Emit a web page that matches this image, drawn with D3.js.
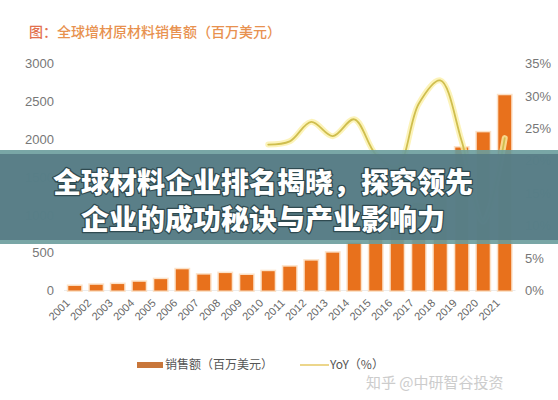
<!DOCTYPE html>
<html><head><meta charset="utf-8">
<script src="https://cdn.jsdelivr.net/npm/d3@7"></script>
<style>
html,body{margin:0;padding:0;background:#fff;}
svg{display:block;font-family:"Liberation Sans","Noto Sans CJK SC",Arial,sans-serif;}
</style></head>
<body><svg id="c" width="558" height="400"></svg>
<script>
const years = ["2001","2002","2003","2004","2005","2006","2007","2008","2009","2010","2011","2012","2013","2014","2015","2016","2017","2018","2019","2020","2021"];
const sales = [60, 75, 85, 115, 150, 280, 210, 230, 205, 255, 315, 395, 500, 630, 765, 905, 1160, 1535, 1890, 2090, 2580];
const yoy = [null, null, null, null, null, null, null, null, null, 22.5, 23, 26, 23.8, 26.4, 21, 19, 28.8, 32.4, 23, 10.6, 23.5];
const leftTicks = [0, 500, 1000, 1500, 2000, 2500, 3000];
const rightTicks = [0, 5, 10, 15, 20, 25, 30, 35];
const titleText = "图：全球增材原材料销售额（百万美元）";
const legendBar = "销售额（百万美元）";
const legendLine = "YoY（%）";
const bannerLines = ["全球材料企业排名揭晓，探究领先", "企业的成功秘诀与产业影响力"];
const watermark = "知乎 @中研智谷投资";

const svg = d3.select("#c");
const x = d3.scaleBand().domain(years).range([64, 515.5]).paddingInner(0.4).paddingOuter(0.2);
const yL = d3.scaleLinear().domain([0, 3000]).range([290.5, 63.5]);
const yR = d3.scaleLinear().domain([0, 35]).range([290.5, 63.5]);

// title
const t = svg.append("text").attr("x", 29).attr("y", 37).attr("font-size", 14).attr("font-weight", 500)
  .attr("font-family", "'Noto Sans CJK SC',sans-serif");
t.append("tspan").attr("fill", "#e2704e").text(titleText.slice(0, 2));
t.append("tspan").attr("fill", "#e8914f").text(titleText.slice(2));

// left axis
const gl = svg.append("g").attr("transform", "translate(54,0)")
  .call(d3.axisLeft(yL).tickValues(leftTicks).tickSize(0).tickPadding(0).tickFormat(d3.format("d")));
gl.select(".domain").remove();
gl.selectAll("text").attr("font-size", 13).attr("fill", "#777").attr("font-family", "'Liberation Sans',Arial,sans-serif");

// right axis
const gr = svg.append("g").attr("transform", "translate(525,0)")
  .call(d3.axisRight(yR).tickValues(rightTicks).tickSize(0).tickPadding(0).tickFormat(d => d + "%"));
gr.select(".domain").remove();
gr.selectAll("text").attr("font-size", 13).attr("fill", "#777").attr("font-family", "'Liberation Sans',Arial,sans-serif");

// baseline
svg.append("line").attr("x1", 64).attr("x2", 515.5).attr("y1", yL(0)).attr("y2", yL(0))
  .attr("stroke", "#ececec").attr("stroke-width", 1);

// bars
const bars = svg.append("g");
bars.selectAll("rect.glow").data(years).join("rect").attr("class", "glow")
  .attr("x", d => x(d)).attr("width", x.bandwidth())
  .attr("y", (d, i) => yL(sales[i])).attr("height", (d, i) => yL(0) - yL(sales[i]))
  .attr("fill", "none").attr("stroke", "#fbd6b0").attr("stroke-width", 3).attr("opacity", 0.7);
bars.selectAll("rect.bar").data(years).join("rect").attr("class", "bar")
  .attr("x", d => x(d)).attr("width", x.bandwidth())
  .attr("y", (d, i) => yL(sales[i])).attr("height", (d, i) => yL(0) - yL(sales[i]))
  .attr("fill", "#e8711c");

// line
const pts = years.map((d, i) => ({ x: x(d) + x.bandwidth() / 2, v: yoy[i] }));
const line = d3.line().defined(d => d.v != null).x(d => d.x).y(d => yR(d.v)).curve(d3.curveCatmullRom.alpha(0.5));
svg.append("path").attr("d", line(pts)).attr("fill", "none").attr("stroke", "#fbf0a8").attr("stroke-width", 6).attr("opacity", 0.8).attr("stroke-linecap", "round");
svg.append("path").attr("d", line(pts)).attr("fill", "none").attr("stroke", "#cfbe4e").attr("stroke-width", 1.8).attr("stroke-linecap", "round");

// x labels
svg.append("g").selectAll("text").data(years).join("text")
  .attr("transform", d => `translate(${x(d) + x.bandwidth() / 2 - 7},${301}) rotate(-45)`)
  .attr("text-anchor", "end").attr("dy", "0.35em")
  .attr("font-size", 11).attr("fill", "#666").attr("font-family", "'Liberation Sans',Arial,sans-serif")
  .text(d => d);

// legend
const lg = svg.append("g");
lg.append("rect").attr("x", 137).attr("y", 362).attr("width", 26).attr("height", 6).attr("fill", "#c8763a");
lg.append("text").attr("x", 165).attr("y", 365).attr("dy", "0.35em").attr("font-size", 12).attr("fill", "#555")
  .attr("font-family", "'Noto Sans CJK SC',sans-serif").text(legendBar);
lg.append("line").attr("x1", 300).attr("x2", 329).attr("y1", 365).attr("y2", 365).attr("stroke", "#e6c865").attr("stroke-width", 1.5);
lg.append("text").attr("x", 330).attr("y", 365).attr("dy", "0.35em").attr("font-size", 12).attr("fill", "#555")
  .attr("font-family", "'Noto Sans CJK SC',sans-serif").text(legendLine);

// watermark
svg.append("text").attr("x", 366).attr("y", 383).attr("dy", "0.35em").attr("font-size", 15).attr("fill", "#c4c4c4")
  .attr("font-family", "'Noto Sans CJK SC',sans-serif").attr("opacity", 0.85).text(watermark);

// banner overlay
const bn = svg.append("g");
bn.append("rect").attr("x", 0).attr("y", 150).attr("width", 558).attr("height", 94).attr("fill", "#6a9c9c").attr("opacity", 0.9);
bn.append("rect").attr("x", 0).attr("y", 154).attr("width", 558).attr("height", 86).attr("fill", "#557a84").attr("opacity", 0.88);
bn.selectAll("text").data(bannerLines).join("text")
  .attr("x", 263).attr("y", (d, i) => [183, 220][i]).attr("dy", "0.36em").attr("text-anchor", "middle")
  .attr("font-size", 28).attr("font-weight", 900).attr("fill", "#fff")
  .attr("stroke", "#2f4a50").attr("stroke-width", 2.5).attr("paint-order", "stroke").attr("stroke-linejoin", "round")
  .attr("font-family", "'Noto Sans CJK SC',sans-serif").text(d => d);
</script></body></html>
